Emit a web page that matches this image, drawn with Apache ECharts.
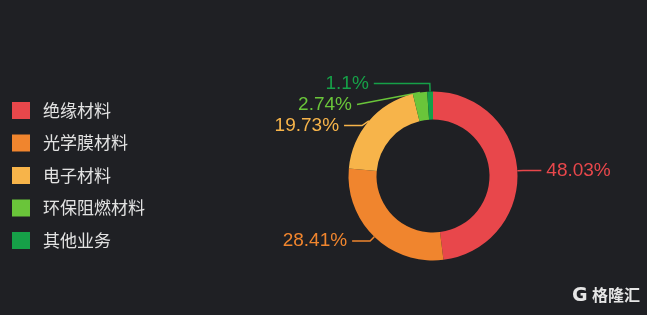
<!DOCTYPE html>
<html><head><meta charset="utf-8">
<script src="https://cdn.jsdelivr.net/npm/echarts@6/dist/echarts.min.js"></script>
<style>html,body{margin:0;padding:0;background:#1f2024;}#c{width:647px;height:315px;}</style>
</head><body><div id="c"></div>
<script>
const categories = ['绝缘材料','光学膜材料','电子材料','环保阻燃材料','其他业务'];
const values = [48.03, 28.41, 19.73, 2.74, 1.1];
const colors = ['#e8474b','#f0852e','#f7b44a','#6ac53a','#16a048'];

const chart = echarts.init(document.getElementById('c'));
chart.setOption({
  backgroundColor: '#1f2024',
  color: colors,
  legend: {
    orient: 'vertical', left: 7, top: 97,
    itemWidth: 18, itemHeight: 17, itemGap: 15.5,
    icon: 'rect',
    textStyle: {color: '#e2e2e2', fontSize: 17, fontFamily: 'Noto Sans CJK SC', padding: [0,0,0,8]},
    data: categories
  },
  graphic: [
    {type:'text', left: 572, top: 287, style:{text:'G', fontSize: 19, fontWeight:'bold', fill:'#e6e6e6', fontFamily:'DejaVu Sans'}},
    {type:'text', left: 592, top: 287, style:{text:'格隆汇', fontSize: 16, fontWeight:'bold', fill:'#e6e6e6', fontFamily:'Noto Sans CJK SC'}}
  ],
  series: [{
    type: 'pie',
    center: [433, 176],
    radius: [56.5, 84.5],
    startAngle: 90,
    clockwise: true,
    avoidLabelOverlap: true,
    label: {
      show: true, formatter: '{c}%', fontSize: 19,
      fontFamily: 'Liberation Sans', color: 'inherit'
    },
    labelLine: {show: true, length: 6, length2: 18, lineStyle:{width:1.5}},
    data: categories.map((n,i)=>{
      const d = {name:n, value: values[i], label:{color: colors[i]}};
      if (i === 4) d.labelLine = {length: 8, length2: 56};
      if (i === 3) d.labelLine = {length: 8, length2: 22};
      return d;
    })
  }]
});
</script></body></html>
